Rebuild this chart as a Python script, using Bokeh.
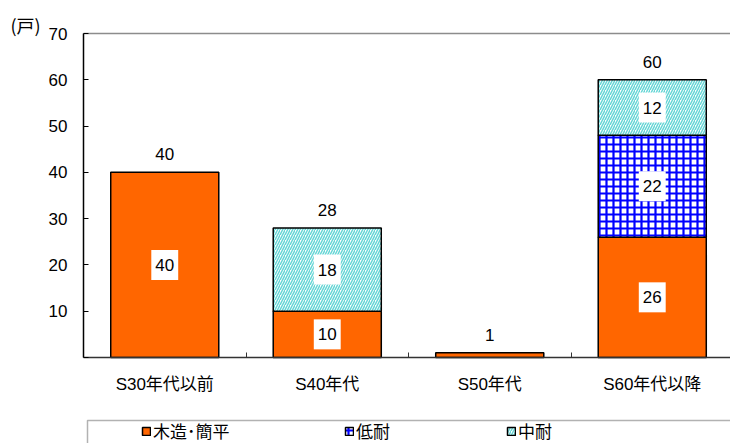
import numpy as np
from bokeh.plotting import figure
from bokeh.models import (Range1d, FixedTicker, Label, Legend, LegendItem,
                          BoxAnnotation, LinearAxis)
from bokeh.embed import file_html
from bokeh.resources import INLINE

# ---- data ----
categories = ["S30年代以前", "S40年代", "S50年代", "S60年代以降"]
series_names = ["木造･簡平", "低耐", "中耐"]
wood = [40, 10, 1, 26]
low = [0, 0, 0, 22]
mid = [0, 18, 0, 12]
y_ticks = [0, 10, 20, 30, 40, 50, 60, 70]
unit_label = "(戸)"

FONT = "Liberation Sans, Noto Sans CJK JP"
JFONT = "Noto Sans CJK JP"

# layout (pixels) -> data ranges
W, H = 730, 443
ax_left, ax_top, ax_bottom = 83, 33, 357
cat_px = 162.5
ymax = 70
ypx = (ax_bottom - ax_top) / ymax
x0 = -0.5 - ax_left / cat_px
x1 = -0.5 + (W - ax_left) / cat_px
y0 = -(H - ax_bottom) / ypx
y1 = ymax + ax_top / ypx

p = figure(width=W, height=H, output_backend="svg", toolbar_location=None,
           x_range=Range1d(x0, x1), y_range=Range1d(y0, y1),
           min_border=0)
p.outline_line_color = None
p.background_fill_color = "white"
p.border_fill_color = "white"
p.xgrid.visible = False
p.ygrid.visible = False

x = np.arange(len(categories))
w = np.array(wood)
lo = np.array(low)
mi = np.array(mid)
bw = 0.665

r_wood = p.vbar(x=x, bottom=0, top=w, width=bw, fill_color="#FF6600",
                line_color="black", line_width=1.5)
ml = lo > 0
r_low = p.vbar(x=x[ml], bottom=w[ml], top=(w + lo)[ml], width=bw,
               fill_color="white", hatch_pattern="+", hatch_color="#0000FF",
               hatch_scale=7, hatch_weight=2.2, line_color="black", line_width=1.5)
mm = mi > 0
r_mid = p.vbar(x=x[mm], bottom=(w + lo)[mm], top=(w + lo + mi)[mm], width=bw,
               fill_color="white", hatch_pattern="/", hatch_color="#66D6D6",
               hatch_scale=5, hatch_weight=1.5, line_color="black", line_width=1.5)

# segment value labels
for vals, bottoms in ((w, np.zeros_like(w)), (lo, w), (mi, w + lo)):
    for i, v in enumerate(vals):
        if v >= 5:
            p.add_layout(Label(x=int(x[i]), y=float(bottoms[i] + v / 2), text=str(int(v)),
                               text_align="center", text_baseline="middle",
                               text_font=FONT, text_font_size="17px", text_color="black",
                               background_fill_color="white", padding=(4, 9)))
# totals
tot = w + lo + mi
for i, t in enumerate(tot):
    p.add_layout(Label(x=int(x[i]), y=float(t), y_offset=12, text=str(int(t)),
                       text_align="center", text_baseline="bottom", text_color="black",
                       text_font=FONT, text_font_size="17px"))

# unit label
p.add_layout(Label(x=-0.5, y=ymax, x_offset=-73, y_offset=9, text=unit_label,
                   text_align="left", text_baseline="middle", text_color="black",
                   text_font=JFONT, text_font_size="18px"))

# axes
p.yaxis.fixed_location = -0.5
p.yaxis.bounds = (0, ymax)
p.yaxis.ticker = FixedTicker(ticks=y_ticks)
p.yaxis.major_label_overrides = {0: ""}
p.yaxis.axis_line_color = "black"
p.yaxis.axis_line_width = 1.5
p.yaxis.major_tick_in = 5
p.yaxis.major_tick_out = 0
p.yaxis.major_tick_line_color = "black"
p.yaxis.minor_tick_line_color = None
p.yaxis.major_label_standoff = 16
p.yaxis.major_label_text_font = FONT
p.yaxis.major_label_text_font_size = "17px"
p.yaxis.major_label_text_color = "black"

p.xaxis.fixed_location = 0
p.xaxis.bounds = (-0.5, 10)
p.xaxis.ticker = FixedTicker(ticks=list(x), minor_ticks=[i + 0.5 for i in x[:-1]])
p.xaxis.major_label_overrides = {int(i): c for i, c in zip(x, categories)}
p.xaxis.axis_line_color = "#333333"
p.xaxis.axis_line_width = 1.5
p.xaxis.major_tick_line_color = None
p.xaxis.minor_tick_in = 5
p.xaxis.minor_tick_out = 0
p.xaxis.minor_tick_line_color = "#333333"
p.xaxis.major_label_standoff = 11
p.xaxis.major_label_text_font = FONT
p.xaxis.major_label_text_font_size = "17px"
p.xaxis.major_label_text_color = "black"

# top frame line
top_axis = LinearAxis(fixed_location=ymax, bounds=(-0.5, 10), ticker=FixedTicker(ticks=[]),
                      axis_line_color="#8c8c8c", axis_line_width=1.5,
                      major_tick_line_color=None, minor_tick_line_color=None,
                      major_label_text_font_size="0px")
p.add_layout(top_axis, "above")

# legend box
p.add_layout(BoxAnnotation(left=-0.5 + 4 / cat_px, right=10,
                           top=-(420 - ax_bottom) / ypx, bottom=y0 - 20,
                           fill_color=None, line_color="black", line_width=1.5))

# legends
leg_x = [141, 344, 506]
for name, r, lx in zip(series_names, [r_wood, r_low, r_mid], leg_x):
    lg = Legend(items=[LegendItem(label=name, renderers=[r])], location=(lx, 0),
                orientation="horizontal", padding=0, margin=0, spacing=0,
                glyph_width=10, glyph_height=10, label_standoff=2, label_height=18,
                label_text_font=JFONT, label_text_font_size="17px", label_text_color="black",
                border_line_color=None, background_fill_alpha=0)
    p.add_layout(lg)

open("out.html", "w").write(file_html(p, INLINE))
